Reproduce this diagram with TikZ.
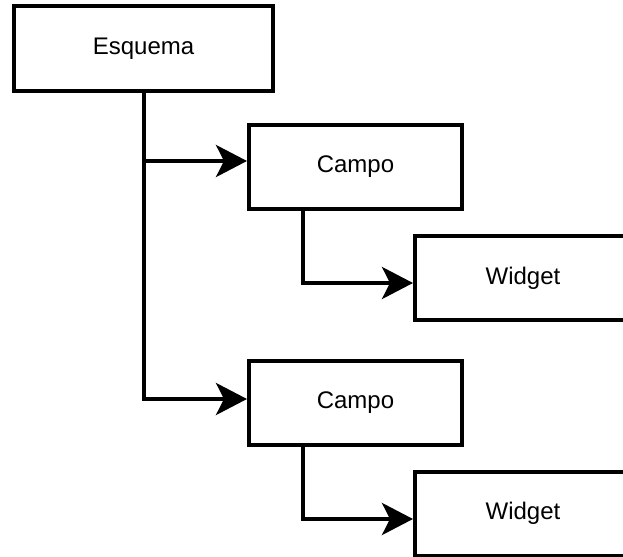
\documentclass[tikz,border=0pt]{standalone}
\usepackage{fontspec}
\setmainfont{Liberation Sans}
\usetikzlibrary{arrows.meta,positioning}

\begin{document}
\begin{tikzpicture}[x=0.5pt,y=-0.5pt,
  caixa/.style={draw,line width=2pt,inner sep=0pt,minimum height=42pt,font=\fontsize{12}{14}\selectfont},
  seta/.style={line width=2pt,-{Stealth[length=15.5pt,width=16pt,inset=4pt]}}]
\clip (0,0) rectangle (623,557);
\node[caixa,minimum width=129.5pt,minimum height=42.5pt] (esq) at (143.5,48.5) {Esquema};
\node[caixa,minimum width=106.5pt] (c1) at (355.5,167)   {Campo};
\node[caixa,minimum width=108pt]   (w1) at (523,278)     {Widget};
\node[caixa,minimum width=106.5pt] (c2) at (355.5,402.5) {Campo};
\node[caixa,minimum width=108pt]   (w2) at (523,513.5)   {Widget};
\coordinate (e1) at ([yshift=3pt]c1.west);
\coordinate (e2) at ([yshift=1.75pt]c2.west);
% ramos do esquema
\draw[seta] (esq.south) |- (e2);
\draw[seta] (esq.south |- e1) -- (e1);
% campo -> widget
\draw[seta] ([xshift=28pt]c1.south west) |- ([yshift=-2.5pt]w1.west);
\draw[seta] ([xshift=28pt]c2.south west) |- ([yshift=-2.75pt]w2.west);
\end{tikzpicture}
\end{document}
